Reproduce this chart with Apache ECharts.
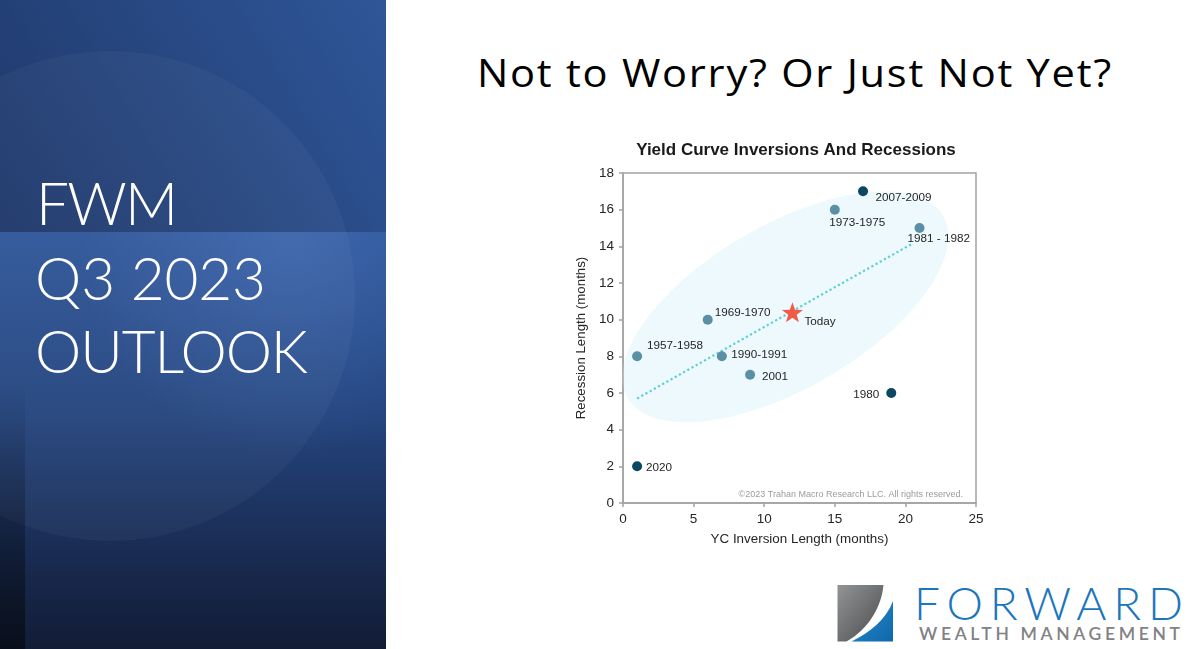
<!DOCTYPE html>
<html><head><meta charset="utf-8">
<script src="https://cdn.jsdelivr.net/npm/echarts@6/dist/echarts.min.js"></script>
<style>
html,body{margin:0;padding:0;width:1195px;height:649px;overflow:hidden;background:#ffffff;}
#bg{position:absolute;left:0;top:0;}
#chart{position:absolute;left:0;top:0;width:1195px;height:649px;}
</style></head><body>
<svg id="bg" width="1195" height="649" xmlns="http://www.w3.org/2000/svg">
 <defs>
  <linearGradient id="lowBase" x1="0" y1="232" x2="0" y2="649" gradientUnits="userSpaceOnUse">
   <stop offset="0" stop-color="#30579B"/>
   <stop offset="0.45" stop-color="#24447D"/>
   <stop offset="0.75" stop-color="#1A2D55"/>
   <stop offset="1" stop-color="#121C35"/>
  </linearGradient>
  <radialGradient id="glow" cx="290" cy="245" r="210" gradientUnits="userSpaceOnUse">
   <stop offset="0" stop-color="#4C78C0" stop-opacity="0.45"/>
   <stop offset="1" stop-color="#4C78C0" stop-opacity="0"/>
  </radialGradient>
  <linearGradient id="topBase" x1="0" y1="232" x2="386" y2="0" gradientUnits="userSpaceOnUse">
   <stop offset="0" stop-color="#1F386A"/>
   <stop offset="1" stop-color="#2F5698"/>
  </linearGradient>
  <linearGradient id="strip" x1="0" y1="380" x2="0" y2="649" gradientUnits="userSpaceOnUse">
   <stop offset="0" stop-color="#000000" stop-opacity="0"/>
   <stop offset="1" stop-color="#000000" stop-opacity="0.5"/>
  </linearGradient>
  <linearGradient id="grayG" x1="0" y1="0" x2="1" y2="1">
   <stop offset="0" stop-color="#929496"/>
   <stop offset="1" stop-color="#4A4B4D"/>
  </linearGradient>
  <linearGradient id="blueG" x1="0" y1="0" x2="1" y2="1">
   <stop offset="0" stop-color="#2A8BCB"/>
   <stop offset="1" stop-color="#0E68AB"/>
  </linearGradient>
  <clipPath id="panelClip"><rect x="0" y="0" width="386" height="649"/></clipPath>
 </defs>
 <g clip-path="url(#panelClip)">
  <rect x="0" y="232" width="386" height="417" fill="url(#lowBase)"/>
  <rect x="0" y="232" width="386" height="417" fill="url(#glow)"/>
  <rect x="0" y="0" width="386" height="232" fill="url(#topBase)"/>
  <circle cx="110" cy="296" r="245" fill="#ffffff" fill-opacity="0.035"/>
  <rect x="0" y="0" width="25" height="649" fill="url(#strip)"/>
 </g>
 <g fill="#ffffff" font-family="Lato" font-weight="300" font-size="58.5">
  <text x="36" y="225" textLength="142" lengthAdjust="spacing">FWM</text>
  <text x="35" y="300" textLength="231" lengthAdjust="spacing">Q3 2023</text>
  <text x="35" y="373" textLength="273" lengthAdjust="spacing">OUTLOOK</text>
 </g>
 <text id="slideTitle" x="477" y="87" font-family="Open Sans" font-size="38" fill="#000000">Not to Worry? Or Just Not Yet?</text>
 <g transform="translate(837.5,585)">
  <path d="M0,0 H46 C44,22 31,44 9,56.5 H0 Z" fill="url(#grayG)"/>
  <path d="M55.5,16 V56.5 H14 C33,47 49,34 55.5,16 Z" fill="url(#blueG)"/>
 </g>
 <text x="914" y="620" font-family="Lato" font-weight="300" font-size="46" fill="#1C76BC" textLength="269" lengthAdjust="spacing">FORWARD</text>
 <text x="919" y="640" font-family="Lato" font-weight="600" font-size="17.5" fill="#808285" textLength="261" lengthAdjust="spacing">WEALTH MANAGEMENT</text>
</svg>
<div id="chart"></div>
<script>
// fit the slide title to the reference width: half by letter-spacing, half by glyph width
(function () {
  const t = document.getElementById('slideTitle');
  const target = 636;
  const w = t.getComputedTextLength();
  const n = t.textContent.length;
  if (w > 0 && w < target) {
    t.setAttribute('letter-spacing', ((target - w) * 0.45 / (n - 1)).toFixed(3));
  }
  t.setAttribute('textLength', target);
  t.setAttribute('lengthAdjust', 'spacingAndGlyphs');
})();

// ---- data ----
const recessionNames = ['1957-1958','1969-1970','1973-1975','1980','1981 - 1982','1990-1991','2001','2007-2009','2020'];
const inversionMonths = [1, 6, 15, 19, 21, 7, 9, 17, 1];
const recessionMonths = [8, 10, 16, 6, 15, 8, 7, 17, 2];
const todayName = 'Today';
const todayInversion = [12];
const todayRecession = [10.4];
const trendInversion = [1, 20.5];
const trendRecession = [5.7, 14.15];
const xTickStep = 5, xMax = 25;
const yTickStep = 2, yMax = 18;
// highlighted zone (centre in data units, semi-axes in x-units, tilt in degrees)
const zoneCenter = [11.5, 10.7];
const zoneSemiAxes = [12.9, 5.8];
const zoneTilt = 30;

// ---- styles ----
const LIGHT = '#5A8FA5', DARK = '#0B4762';
const pointStyle = {
  '1957-1958':  {color: LIGHT, dx: 10,  dy: -11, align: 'left'},
  '1969-1970':  {color: LIGHT, dx: 7,   dy: -7,  align: 'left'},
  '1973-1975':  {color: LIGHT, dx: -5.5,dy: 13,  align: 'left'},
  '1980':       {color: DARK,  dx: -12, dy: 1.5, align: 'right'},
  '1981 - 1982':{color: LIGHT, dx: -12, dy: 11,  align: 'left'},
  '1990-1991':  {color: LIGHT, dx: 9.5, dy: -1.5,align: 'left'},
  '2001':       {color: LIGHT, dx: 12,  dy: 2.5, align: 'left'},
  '2007-2009':  {color: DARK,  dx: 12.5,dy: 6.5, align: 'left'},
  '2020':       {color: DARK,  dx: 9,   dy: 1,   align: 'left'}
};
const FONT = 'Liberation Sans';
const TXT = '#262626';
const GRID_LINE = '#A3A3A3';

const scatterData = recessionNames.map((n, i) => {
  const s = pointStyle[n];
  return {
    name: n,
    value: [inversionMonths[i], recessionMonths[i]],
    itemStyle: {color: s.color, opacity: 1},
    label: {offset: [s.dx, s.dy], align: s.align}
  };
});

const chart = echarts.init(document.getElementById('chart'), null, {renderer: 'canvas'});
chart.setOption({
  backgroundColor: 'transparent',
  animation: false,
  graphic: [
    {type: 'text', x: 796, y: 150, z: 10,
     style: {text: 'Yield Curve Inversions And Recessions', textAlign: 'center', textVerticalAlign: 'middle',
             font: 'bold 17px "Liberation Sans"', fill: '#1A1A1A'}},
    {type: 'text', x: 963, y: 495, z: 10,
     style: {text: '©2023 Trahan Macro Research LLC. All rights reserved.', textAlign: 'right', textVerticalAlign: 'middle',
             font: '9px "Liberation Sans"', fill: '#9C9C9C'}}
  ],
  grid: {left: 623, top: 173, width: 353, height: 330, show: true, borderColor: GRID_LINE, borderWidth: 1.5, backgroundColor: 'transparent'},
  xAxis: {
    type: 'value', min: 0, max: xMax, interval: xTickStep, z: 10,
    name: 'YC Inversion Length (months)', nameLocation: 'middle', nameGap: 30,
    nameTextStyle: {fontFamily: FONT, fontSize: 13.4, color: TXT},
    axisLine: {show: true, lineStyle: {color: GRID_LINE, width: 1.5}},
    axisTick: {show: true, length: 4, lineStyle: {color: GRID_LINE, width: 1.5}},
    axisLabel: {fontFamily: FONT, fontSize: 13.5, color: TXT, margin: 9},
    splitLine: {show: false}
  },
  yAxis: {
    type: 'value', min: 0, max: yMax, interval: yTickStep, z: 10,
    name: 'Recession Length (months)', nameLocation: 'middle', nameGap: 35,
    nameTextStyle: {fontFamily: FONT, fontSize: 13.3, color: TXT},
    axisLine: {show: true, lineStyle: {color: GRID_LINE, width: 1.5}},
    axisTick: {show: true, length: 4, lineStyle: {color: GRID_LINE, width: 1.5}},
    axisLabel: {fontFamily: FONT, fontSize: 13.5, color: TXT, margin: 9},
    splitLine: {show: false}
  },
  series: [
    {
      type: 'custom', z: 1, silent: true, clip: false,
      data: [zoneCenter],
      renderItem: function (params, api) {
        const c = api.coord([api.value(0), api.value(1)]);
        const unit = api.size([1, 1]);
        const a = zoneSemiAxes[0] * unit[0], b = zoneSemiAxes[1] * unit[0];
        const t = zoneTilt * Math.PI / 180;
        const pts = [];
        for (let i = 0; i < 120; i++) {
          const p = i / 120 * 2 * Math.PI;
          const ex = a * Math.cos(p), ey = b * Math.sin(p);
          pts.push([c[0] + ex * Math.cos(t) - ey * Math.sin(t), c[1] - (ex * Math.sin(t) + ey * Math.cos(t))]);
        }
        return {type: 'polygon', shape: {points: pts}, style: {fill: '#EDF9FD'}};
      }
    },
    {
      type: 'line', z: 2, silent: true, symbol: 'none',
      data: trendInversion.map((x, i) => [x, trendRecession[i]]),
      lineStyle: {color: '#5CCFD6', width: 2.2, type: [2.2, 2.6]}
    },
    {
      type: 'scatter', z: 3, symbolSize: 10,
      data: scatterData,
      label: {show: true, position: 'inside', formatter: '{b}', verticalAlign: 'middle',
              fontFamily: FONT, fontSize: 11.7, color: TXT}
    },
    {
      type: 'scatter', z: 4,
      symbol: 'path://M0,-10 L2.35,-3.24 L9.51,-3.09 L3.8,1.24 L5.88,8.09 L0,4 L-5.88,8.09 L-3.8,1.24 L-9.51,-3.09 L-2.35,-3.24 Z',
      symbolSize: [21, 20],
      itemStyle: {color: '#F25A48', opacity: 1},
      data: todayInversion.map((x, i) => ({name: todayName, value: [x, todayRecession[i]]})),
      label: {show: true, position: 'inside', formatter: '{b}', align: 'left', verticalAlign: 'middle', offset: [12, 9.5],
              fontFamily: FONT, fontSize: 11.7, color: TXT}
    }
  ]
});
</script>
</body></html>
